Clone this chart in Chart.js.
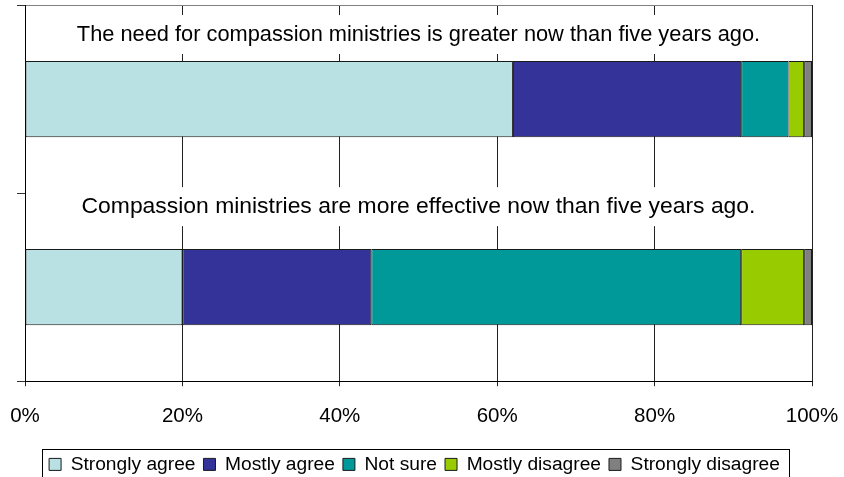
<!DOCTYPE html>
<html>
<head>
<meta charset="utf-8">
<script src="https://cdn.jsdelivr.net/npm/chart.js@4/dist/chart.umd.min.js"></script>
<style>
  html, body { margin: 0; padding: 0; background: #fff; }
  #wrap { width: 844px; height: 477px; position: relative; }
</style>
</head>
<body>
<div id="wrap"><canvas id="survey"></canvas></div>
<script>
// categories (one bar each)
const statements = [
    "The need for compassion ministries is greater now than five years ago.",
    "Compassion ministries are more effective now than five years ago."
];
const xTicks = [0, 20, 40, 60, 80, 100];

// series, % of answers
const stronglyAgree    = [62, 20];
const mostlyAgree      = [29, 24];
const notSure          = [6, 47];
const mostlyDisagree   = [2, 8];
const stronglyDisagree = [1, 1];

const FONT = "'Liberation Sans', Arial, sans-serif";

// category text above each bar, on a white box that hides the gridlines
const statementLabels = {
    id: 'statementLabels',
    afterDatasetsDraw(chart, args, opts) {
        const ctx = chart.ctx;
        const y = chart.scales.y;
        const area = chart.chartArea;
        const cx = (area.left + area.right) / 2;
        ctx.save();
        ctx.textAlign = 'center';
        ctx.textBaseline = 'middle';
        chart.data.labels.forEach(function(txt, i){
            ctx.font = opts.sizes[i] + 'px ' + FONT;
            const ty = y.getPixelForValue(i) + opts.offsets[i];
            const w = ctx.measureText(txt).width;
            ctx.fillStyle = '#fff';
            ctx.fillRect(cx - w / 2 - 8, ty - 20, w + 16, 39);
            ctx.fillStyle = '#000';
            ctx.fillText(txt, cx, ty);
        });
        ctx.restore();
    }
};

// frame round the legend
const legendFrame = {
    id: 'legendFrame',
    afterDraw(chart) {
        const boxes = chart.legend.legendHitBoxes;
        if (!boxes || !boxes.length) return;
        const first = boxes[0], last = boxes[boxes.length - 1];
        const ctx = chart.ctx;
        ctx.save();
        ctx.strokeStyle = '#000';
        ctx.lineWidth = 1;
        const top = Math.round(first.top + first.height / 2 - 15) + 0.5;
        ctx.strokeRect(Math.round(first.left - 7) + 0.5, top,
            Math.round(last.left + last.width - first.left + 16), 40);
        ctx.restore();
    }
};

const ctx = document.getElementById('survey').getContext('2d');

const surveyChart = new Chart(ctx, {
    type: 'bar',
    data: {
        labels: statements,
        datasets: [
            { label: 'Strongly agree',    data: stronglyAgree,    backgroundColor: '#b9e0e3' },
            { label: 'Mostly agree',      data: mostlyAgree,      backgroundColor: '#333399' },
            { label: 'Not sure',          data: notSure,          backgroundColor: '#009999' },
            { label: 'Mostly disagree',   data: mostlyDisagree,   backgroundColor: '#99cc00' },
            { label: 'Strongly disagree', data: stronglyDisagree, backgroundColor: '#808080' }
        ]
    },
    options: {
        indexAxis: 'y',
        responsive: true,
        maintainAspectRatio: false,
        animation: false,
        datasets: {
            bar: {
                borderColor: '#1a1a1a',
                borderWidth: 1,
                borderSkipped: false,
                categoryPercentage: 0.5,
                barPercentage: 0.81
            }
        },
        layout: {
            padding: { left: 17, right: 32, top: 5, bottom: -7 }
        },
        scales: {
            x: {
                stacked: true,
                min: 0,
                max: 100,
                afterBuildTicks: function(axis){
                    axis.ticks = xTicks.map(v => ({ value: v }));
                },
                // tick labels may hang into the side padding
                afterFit: function(axis){
                    axis.paddingLeft = 0;
                    axis.paddingRight = 0;
                },
                ticks: {
                    color: '#000',
                    padding: 18,
                    font: { family: FONT, size: 20.5 },
                    callback: v => v + '%'
                },
                grid: {
                    color: '#222',
                    tickLength: 5,
                    tickColor: '#222'
                },
                border: { color: '#000' }
            },
            y: {
                stacked: true,
                ticks: { display: false },
                grid: {
                    drawOnChartArea: true,
                    color: c => c.index === 0 ? '#808080' : 'rgba(0,0,0,0)',
                    tickColor: '#333',
                    tickLength: 8
                },
                border: { color: '#000' }
            }
        },
        plugins: {
            tooltip: { enabled: false },
            legend: {
                position: 'bottom',
                labels: {
                    color: '#000',
                    boxWidth: 12,
                    boxHeight: 12,
                    padding: 8,
                    font: { family: FONT, size: 19.2 }
                }
            },
            statementLabels: { sizes: [21.8, 22.9], offsets: [-64, -80] }
        }
    },
    plugins: [statementLabels, legendFrame]
});
</script>
</body>
</html>
